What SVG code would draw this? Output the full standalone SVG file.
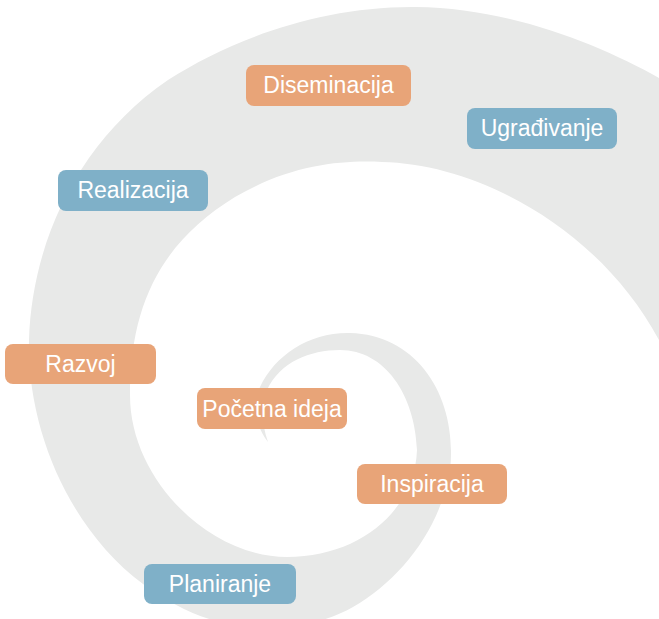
<svg xmlns="http://www.w3.org/2000/svg" width="659" height="619" viewBox="0 0 659 619">
<style>
.o{fill:#e8a478}
.b{fill:#7fb0c8}
.t{font-family:"Liberation Sans",Arial,Helvetica,sans-serif;font-size:23px;fill:#ffffff;text-anchor:middle}
</style>
<rect width="659" height="619" fill="#ffffff"/>
<g id="spiral">
<path fill="#e8e9e8" d="M665,80 L659,78 C600,45 510,8 416,7 C320,6 230,40 168,80 C80,140 32,240 29,340 C27,430 70,530 143,584 C185,615 225,628 268,628 C300,628 330,620 353,607 C400,580 440,530 450,470 C458,400 420,335 350,333 C310,332 275,355 260,387 C252,405 255,425 268,442 C262,425 260,405 267,390 C280,362 310,350 340,350 C385,350 415,395 417,450 C415,510 360,557 287,557 C210,557 130,480 130,395 C130,300 165,240 235,197 C290,165 340,160 382,162 C480,164 600,230 659,340 L665,345 Z"/>
</g>
<g id="connectors"/>
<g id="n-diseminacija"><rect class="o" x="246" y="65" width="165" height="41" rx="8"/><text class="t" x="328.5" y="93">Diseminacija</text></g>
<g id="n-ugradivanje"><rect class="b" x="467" y="108" width="150" height="41" rx="8"/><text class="t" x="542" y="136">Ugrađivanje</text></g>
<g id="n-realizacija"><rect class="b" x="58" y="170" width="150" height="41" rx="8"/><text class="t" x="133" y="198">Realizacija</text></g>
<g id="n-razvoj"><rect class="o" x="5" y="344" width="151" height="40" rx="8"/><text class="t" x="80.5" y="372">Razvoj</text></g>
<g id="n-pocetna"><rect class="o" x="197" y="388" width="150" height="41" rx="8"/><text class="t" x="272" y="417">Početna ideja</text></g>
<g id="n-inspiracija"><rect class="o" x="357" y="464" width="150" height="40" rx="8"/><text class="t" x="432" y="492">Inspiracija</text></g>
<g id="n-planiranje"><rect class="b" x="144" y="564" width="152" height="40" rx="8"/><text class="t" x="220" y="592">Planiranje</text></g>
</svg>
